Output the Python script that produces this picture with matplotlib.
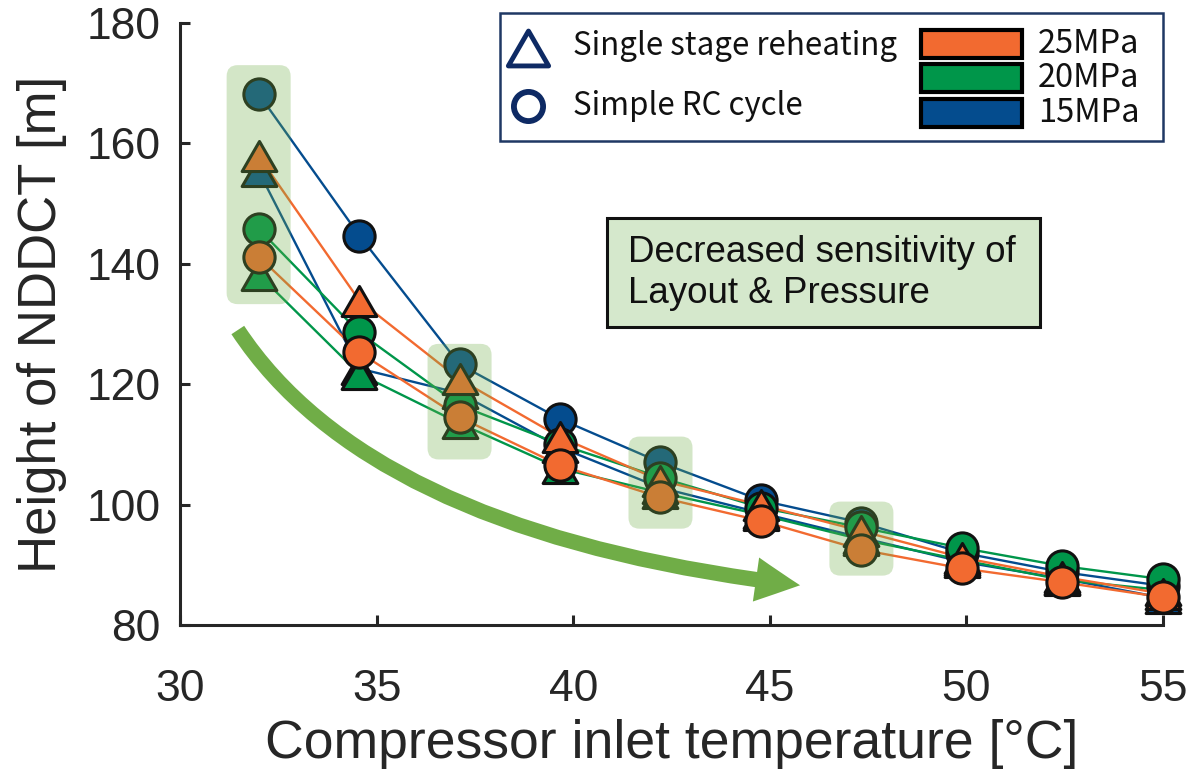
import numpy as np
import matplotlib
matplotlib.use("Agg")
import matplotlib.pyplot as plt
from matplotlib.patches import FancyBboxPatch, FancyArrowPatch, Rectangle
from matplotlib.lines import Line2D
from matplotlib.path import Path


W, H = 1189, 776

# compressor inlet temperature [degC]
temps = [32.0, 34.56, 37.11, 39.67, 42.22, 44.78, 47.33, 49.89, 52.44, 55.0]

# simple recompression cycle, NDDCT height [m]
rc_15 = [168.2, 144.7, 123.3, 114.2, 107.0, 100.7, 97.0, 92.0, 88.8, 86.5]
rc_20 = [145.8, 128.6, 116.5, 110.0, 104.5, 99.5, 96.2, 92.8, 89.8, 87.6]
rc_25 = [141.2, 125.3, 114.5, 106.5, 101.2, 97.3, 92.5, 89.4, 87.1, 84.6]

# single stage reheating, NDDCT height [m]
rh_15 = [155.4, 122.6, 118.5, 109.5, 102.8, 98.6, 94.5, 90.5, 87.7, 84.5]
rh_20 = [138.2, 121.7, 113.5, 106.0, 102.0, 98.3, 94.2, 90.8, 87.5, 85.8]
rh_25 = [157.9, 133.9, 120.8, 111.2, 104.0, 99.9, 95.6, 91.2, 88.0, 85.2]

pressures = ["15MPa", "20MPa", "25MPa"]
colors = {"15MPa": "#044C8E", "20MPa": "#00964A", "25MPa": "#F26A30"}

# highlighted clusters: (temperature, y bottom, y top)
highlights = [(32.0, 133.3, 173.0), (37.11, 107.5, 126.7),
              (42.22, 96.0, 111.3), (47.33, 88.2, 100.5)]

HL_GREEN = "#70AD47"
NAVY = "#0E2A64"

def fx(px):
    return px / W

def fy(py):
    return 1 - py / H

# equilateral triangle marker, a bit wider than tall
tri = Path([(0, 0.866), (-1, -0.866), (1, -0.866), (0, 0.866)],
           [Path.MOVETO, Path.LINETO, Path.LINETO, Path.CLOSEPOLY])

fig = plt.figure(figsize=(W / 100, H / 100), dpi=100)
ax_l, ax_r, ax_t, ax_b = 180, 1163, 23, 625
ax = fig.add_axes([fx(ax_l), fy(ax_b), (ax_r - ax_l) / W, (ax_b - ax_t) / H])
ax.set_xlim(30, 55)
ax.set_ylim(80, 180)

series = [
    (rh_15, "15MPa", tri), (rc_15, "15MPa", "o"),
    (rh_20, "20MPa", tri), (rc_20, "20MPa", "o"),
    (rh_25, "25MPa", tri), (rc_25, "25MPa", "o"),
]

for ys, p, m in series:
    ax.plot(temps, ys, color=colors[p], lw=1.7, zorder=2, clip_on=False)
for i, (ys, p, m) in enumerate(series):
    ms = 25 if m is tri else 22.5
    ax.plot(temps, ys, ls="none", marker=m, ms=ms, mfc=colors[p],
            mec="#111111", mew=2.2, zorder=3 + i * 0.01, clip_on=False)

# translucent boxes over the clusters
xpp = (ax_r - ax_l) / 25.0
ypp = (ax_b - ax_t) / 100.0
half_w = 32 / xpp
for x0, y0, y1 in highlights:
    box = FancyBboxPatch((x0 - half_w, y0), 2 * half_w, y1 - y0,
                         boxstyle="round,pad=0,rounding_size=%f" % (11 / xpp),
                         mutation_aspect=xpp / ypp,
                         fc=HL_GREEN, ec="none", alpha=0.3, zorder=5, clip_on=False)
    ax.add_patch(box)

# trend arrow
p0 = (31.47, 129.0)
pc = (34.9, 95.0)
p1 = (45.77, 86.6)
arrow = FancyArrowPatch(path=Path([p0, pc, p1], [Path.MOVETO, Path.CURVE3, Path.CURVE3]),
                        arrowstyle="simple,head_length=32,head_width=32,tail_width=11",
                        fc=HL_GREEN, ec="none", zorder=1)
ax.add_patch(arrow)

# annotation box
fig.add_artist(Rectangle((fx(607), fy(327)), fx(1040) - fx(607), fy(218) - fy(327),
                         transform=fig.transFigure, fc="#D5E8CC", ec="#111111", lw=2.2,
                         zorder=6))
fig.text(fx(628), fy(273), "Decreased sensitivity of\nLayout & Pressure",
         fontsize=26.5, family="Liberation Sans", va="center", ha="left",
         linespacing=1.25, color="#111111", zorder=7)

# legend panel
fig.add_artist(Rectangle((fx(500), fy(141)), fx(1163) - fx(500), fy(13) - fy(141),
                         transform=fig.transFigure, fc="white", ec="#1F3864", lw=1.8,
                         zorder=6))
fig.add_artist(Line2D([fx(528)], [fy(48)], marker=tri, ms=29, mfc="white", mec=NAVY,
                      mew=3.5, transform=fig.transFigure, zorder=7))
fig.add_artist(Line2D([fx(528)], [fy(106)], marker="o", ms=21, mfc="white", mec=NAVY,
                      mew=4.2, transform=fig.transFigure, zorder=7))
leg_font = ["Noto Sans CJK KR", "DejaVu Sans"]
fig.text(fx(573), fy(46), "Single stage reheating", fontsize=22.5, family=leg_font,
         va="center", ha="left", color="#111111", zorder=7)
fig.text(fx(573), fy(106), "Simple RC cycle", fontsize=22.5, family=leg_font,
         va="center", ha="left", color="#111111", zorder=7)
for label, yc in zip(["25MPa", "20MPa", "15MPa"], [44, 78, 113]):
    fig.add_artist(Rectangle((fx(921), fy(yc + 14)), fx(1022) - fx(921), fy(yc - 14) - fy(yc + 14),
                             transform=fig.transFigure, fc=colors[label], ec="black",
                             lw=3, zorder=7))
    fig.text(fx(1038), fy(yc), label, fontsize=23.5, family=leg_font,
             va="center", ha="left", color="#111111", zorder=7)

for side in ["top", "right"]:
    ax.spines[side].set_visible(False)
for side in ["left", "bottom"]:
    ax.spines[side].set_linewidth(2.2)
    ax.spines[side].set_color("#262626")

ax.set_xticks([30, 35, 40, 45, 50, 55])
ax.set_yticks([80, 100, 120, 140, 160, 180])
ax.tick_params(direction="in", length=7, width=2.2, color="#262626",
               labelsize=32, labelcolor="#262626")
ax.tick_params(axis="x", pad=32)
ax.tick_params(axis="y", pad=14)
for lab in ax.get_xticklabels() + ax.get_yticklabels():
    lab.set_family("Liberation Sans")

ax.set_xlabel("Compressor inlet temperature [°C]", fontsize=38.5,
              family="Liberation Sans", color="#262626", labelpad=6)
ax.set_ylabel("Height of NDDCT [m]", fontsize=38,
              family="Liberation Sans", color="#262626", labelpad=14)

fig.savefig("out.png", dpi=100)
